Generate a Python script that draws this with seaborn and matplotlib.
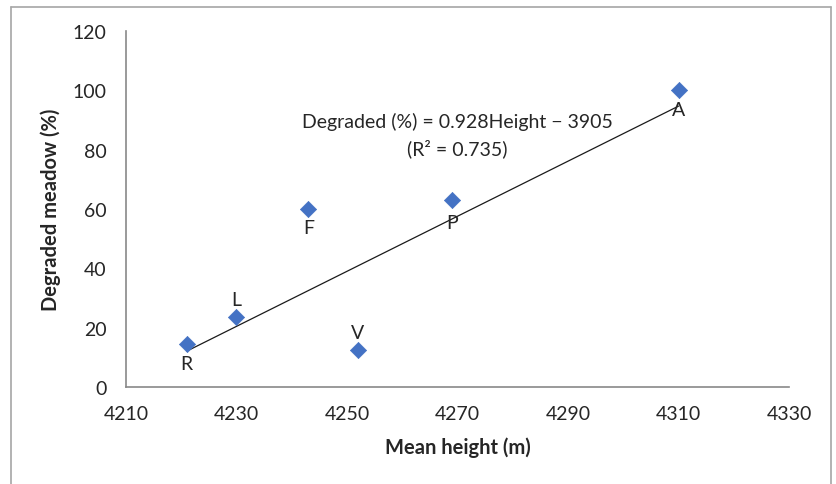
import matplotlib
matplotlib.use("Agg")
import matplotlib.pyplot as plt
from matplotlib.lines import Line2D
import numpy as np
import pandas as pd
import seaborn as sns

# Site data: mean meadow height vs share of degraded meadow
sites = ["R", "L", "F", "V", "P", "A"]
mean_height = [4221, 4230, 4243, 4252, 4269, 4310]
degraded_pct = [14.5, 23.5, 60, 12.5, 63, 100]

# Reported linear fit
slope = 0.928
intercept = -3905
r_squared = 0.735

x_ticks = [4210, 4230, 4250, 4270, 4290, 4310, 4330]
y_ticks = [0, 20, 40, 60, 80, 100, 120]

df = pd.DataFrame({"site": sites, "height": mean_height, "degraded": degraded_pct})

sns.set_theme(style="white")
plt.rcParams["font.family"] = ["Lato", "DejaVu Sans"]

fig = plt.figure(figsize=(8.36, 4.85), dpi=100)
ax = fig.add_axes([0.1507, 0.2, 0.7931, 0.734])

blue = "#4472C4"
axis_grey = "#898989"
text_col = "#262626"
fs = 14

# Trend line across the observed height range
xs = np.array([min(mean_height), max(mean_height)])
ax.plot(xs, slope * xs + intercept, color="#1a1a1a", lw=0.9, zorder=2)

sns.scatterplot(data=df, x="height", y="degraded", marker="D", s=68,
                color=blue, edgecolor=blue, linewidth=0.5, ax=ax, zorder=3)

# Point labels: L and V sit above their markers, the rest below
label_offsets = {"R": -14, "L": 12.5, "F": -13, "V": 12.5, "P": -16, "A": -14}
for name, x, y in zip(sites, mean_height, degraded_pct):
    ax.annotate(name, (x, y), xytext=(0, label_offsets[name]), textcoords="offset points",
                ha="center", va="center", fontsize=fs, color=text_col)

ax.text(4270, 89.6, f"Degraded (%) = {slope}Height \u2212 {abs(intercept)}",
        ha="center", va="center", fontsize=fs, color=text_col)
ax.text(4270, 80.8, f"(R\u00b2 = {r_squared})",
        ha="center", va="center", fontsize=fs, color=text_col)

ax.set_xlim(x_ticks[0], x_ticks[-1])
ax.set_ylim(y_ticks[0], y_ticks[-1])
ax.set_xticks(x_ticks)
ax.set_yticks(y_ticks)

for side in ("top", "right"):
    ax.spines[side].set_visible(False)
for side in ("left", "bottom"):
    ax.spines[side].set_color(axis_grey)
    ax.spines[side].set_linewidth(1.2)

ax.tick_params(axis="both", direction="out", length=5, width=1,
               color=axis_grey, labelsize=fs, labelcolor=text_col)
ax.tick_params(axis="y", pad=9)
ax.tick_params(axis="x", pad=8)

ax.set_xlabel("Mean height (m)", fontsize=14.5, fontweight="bold",
              color=text_col, labelpad=10)
ax.set_ylabel("Degraded meadow (%)", fontsize=14.5, fontweight="bold",
              color=text_col, labelpad=8)

# Frame around the chart area
frame_col = "#a6a6a6"
W, H = 836, 485
l, t, r = 11 / W, 1 - 8 / H, 831 / W
for xd, yd in (([l, l], [-0.01, t]), ([l, r], [t, t]), ([r, r], [t, -0.01])):
    fig.add_artist(Line2D(xd, yd, transform=fig.transFigure, color=frame_col, lw=1.2))

fig.savefig("out.png", dpi=100)
